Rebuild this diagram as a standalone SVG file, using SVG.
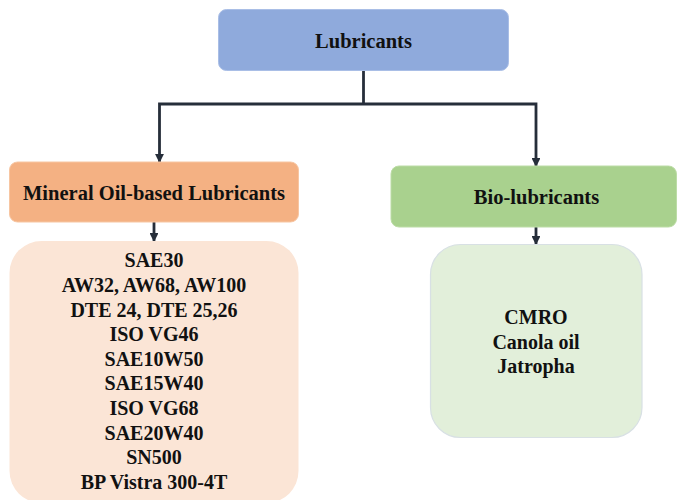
<svg xmlns="http://www.w3.org/2000/svg" width="677" height="500" viewBox="0 0 677 500">
<style>
  .t { font-family: "Liberation Serif", "Times New Roman", serif; font-weight: bold; fill: #111; text-anchor: middle; }
  .h { font-size: 20.5px; }
  .l { font-size: 20px; }
  .conn { stroke: #262E3A; stroke-width: 2.8; fill: none; }
</style>
<defs>
  <marker id="arr" viewBox="0 0 10 10" refX="9" refY="5" markerWidth="3.2" markerHeight="3.2" orient="auto-start-reverse" markerUnits="strokeWidth">
    <path d="M0,0 L10,5 L0,10 z" fill="#262E3A"/>
  </marker>
</defs>
<rect width="677" height="500" fill="#ffffff"/>

<g id="connectors">
  <line class="conn" x1="363.5" y1="70" x2="363.5" y2="104"/>
  <path class="conn" d="M159.5,162 L159.5,104 L536,104 L536,166" marker-start="url(#arr)" marker-end="url(#arr)"/>
  <line class="conn" x1="154" y1="222" x2="154" y2="241" marker-end="url(#arr)"/>
  <line class="conn" x1="536" y1="227" x2="536" y2="244" marker-end="url(#arr)"/>
</g>

<g id="lubricants">
  <rect x="218.5" y="9.5" width="290" height="61" rx="8" fill="#8FAADC" stroke="#A9BEE6" stroke-width="1"/>
  <text class="t h" x="363.5" y="47.5">Lubricants</text>
</g>

<g id="mineral">
  <rect x="9.5" y="162" width="289" height="60" rx="8" fill="#F4B183" stroke="#F7C6A2" stroke-width="1"/>
  <text class="t h" x="154" y="199.5">Mineral Oil-based Lubricants</text>
</g>

<g id="bio">
  <rect x="391" y="166" width="285.5" height="61" rx="8" fill="#A9D18E" stroke="#BCDCA6" stroke-width="1"/>
  <text class="t h" x="536.5" y="204">Bio-lubricants</text>
</g>

<g id="mineral-list">
  <rect x="9.5" y="241" width="289" height="262" rx="32" fill="#FBE5D6"/>
  <text class="t l" x="154" y="267.3">SAE30</text>
  <text class="t l" x="154" y="291.9">AW32, AW68, AW100</text>
  <text class="t l" x="154" y="316.5">DTE 24, DTE 25,26</text>
  <text class="t l" x="154" y="341.1">ISO VG46</text>
  <text class="t l" x="154" y="365.7">SAE10W50</text>
  <text class="t l" x="154" y="390.3">SAE15W40</text>
  <text class="t l" x="154" y="414.9">ISO VG68</text>
  <text class="t l" x="154" y="439.5">SAE20W40</text>
  <text class="t l" x="154" y="464.1">SN500</text>
  <text class="t l" x="154" y="488.7">BP Vistra 300-4T</text>
</g>

<g id="bio-list">
  <rect x="430.5" y="244.5" width="211.5" height="193" rx="30" fill="#E2EFDA" stroke="#D8E0E4" stroke-width="1.2"/>
  <text class="t l" x="536" y="324.3">CMRO</text>
  <text class="t l" x="536" y="348.5">Canola oil</text>
  <text class="t l" x="536" y="372.7">Jatropha</text>
</g>
</svg>
